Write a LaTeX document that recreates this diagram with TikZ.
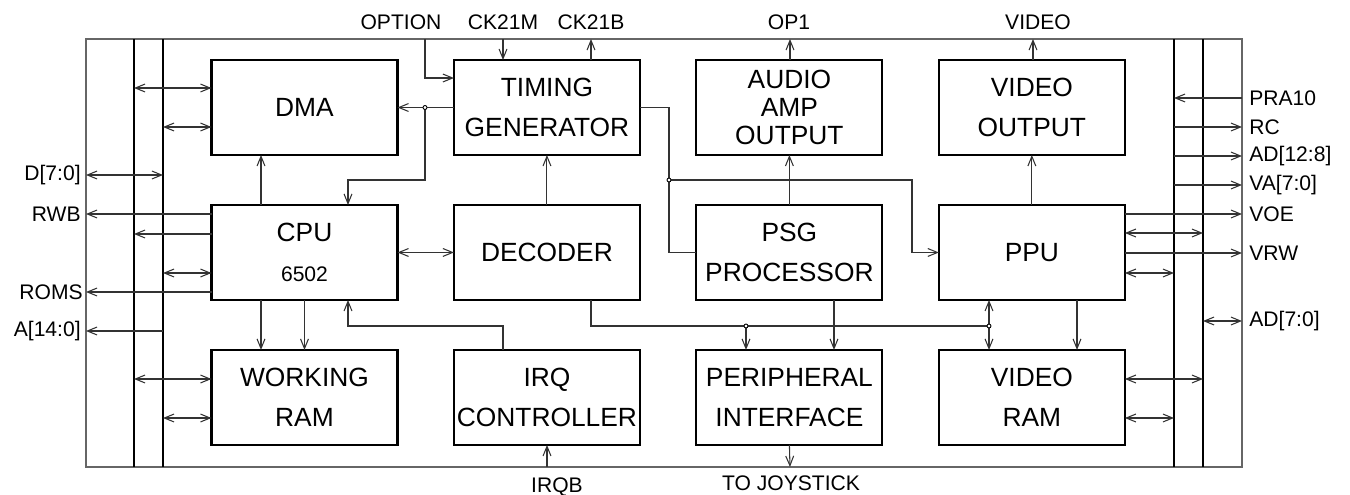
\documentclass[tikz,border=0pt]{standalone}
\usepackage{fontspec}
\setmainfont{Liberation Sans}
\usetikzlibrary{arrows.meta, positioning, calc}
\tikzset{
  blk/.style={rectangle, draw=black, line width=1.2pt, outer sep=0pt, inner sep=0pt,
              minimum width=3.72cm, minimum height=1.9cm, align=center,
              font=\fontsize{15}{22.8}\selectfont},
  lbl/.style={inner sep=0pt, font=\fontsize{12}{14}\selectfont},
  wire/.style={line width=0.6pt, draw=black!80, >={Straight Barb[length=5.5pt,width=4.5pt]}},
  bus/.style={line width=1.2pt, draw=black},
  frame/.style={line width=0.6pt, draw=black!60},
  dot/.style={circle, draw=black, fill=white, line width=0.5pt, inner sep=0pt, minimum size=0.08cm},
}
\begin{document}
\begin{tikzpicture}[x=0.02cm, y=-0.02cm]
  \useasboundingbox (0,0) rectangle (1350,494);

  \node[blk] (dma) at (304.5,107.5) {DMA};
  \node[blk, right=1.13cm of dma] (tg)   {TIMING\\GENERATOR};
  \node[blk, right=1.13cm of tg, font=\fontsize{15}{16}\selectfont] (aud) {AUDIO\\AMP\\OUTPUT};
  \node[blk, right=1.13cm of aud] (vout) {VIDEO\\OUTPUT};
  \node[blk, below=1cm of dma]  (cpu)  {CPU\\{\fontsize{12}{22.8}\selectfont 6502}};
  \node[blk, below=1cm of tg]   (dec)  {DECODER};
  \node[blk, below=1cm of aud]  (psg)  {PSG\\PROCESSOR};
  \node[blk, below=1cm of vout] (ppu)  {PPU};
  \node[blk, below=1cm of cpu]  (wram) {WORKING\\RAM};
  \node[blk, below=1cm of dec]  (irq)  {IRQ\\CONTROLLER};
  \node[blk, below=1cm of psg]  (per)  {PERIPHERAL\\INTERFACE};
  \node[blk, below=1cm of ppu]  (vram) {VIDEO\\RAM};

  \coordinate (fnw) at (86,39);
  \coordinate (fse) at (1242,467);
  \draw[frame] (fnw) rectangle (fse);
  \coordinate (busA) at (134,39);
  \coordinate (busB) at (163,39);
  \coordinate (busC) at (1174,39);
  \coordinate (busD) at (1203,39);
  \foreach \b in {busA,busB,busC,busD}
    \draw[bus] (\b) -- (\b |- fse);

  \coordinate (option) at (425,39);
  \coordinate (ck21m)  at (503,39);
  \coordinate (ck21b)  at (591,39);
  \coordinate (op1)    at (790,39);
  \coordinate (video)  at (1033,39);
  \coordinate (irqb)   at (547,467);
  \coordinate (joy)    at (790,467);
  \coordinate (pD)     at (86,175);
  \coordinate (pRWB)   at (86,214);
  \coordinate (pROMS)  at (86,292);
  \coordinate (pA)     at (86,331);
  \coordinate (pPRA)   at (1242,98);
  \coordinate (pRC)    at (1242,127);
  \coordinate (pAD12)  at (1242,156);
  \coordinate (pVA)    at (1242,185);
  \coordinate (pVOE)   at (1242,214);
  \coordinate (pVRW)   at (1242,253);
  \coordinate (pAD7)   at (1242,321);
  \coordinate (j1) at (tg.west -| 425,0);
  \coordinate (j2) at (669,180);
  \coordinate (j3) at (746,326);
  \coordinate (j4) at (989,326);

  \node[lbl] (tOPT) at (401,22.5)  {OPTION};
  \node[lbl] (tCKM) at (503,22.5)  {CK21M};
  \node[lbl] (tCKB) at (591,22.5)  {CK21B};
  \node[lbl] (tOP1) at (789,22.5)  {OP1};
  \node[lbl] (tVID) at (1038,22.5) {VIDEO};
  \node[lbl, anchor=base] (tIRQB) at (557,492) {IRQB};
  \node[lbl, anchor=base] (tJOY)  at (791,490) {TO JOYSTICK};
  \node[lbl, left=0.1cm of pD]     (lD)    {D[7:0]};
  \node[lbl, left=0.1cm of pRWB]   (lRWB)  {RWB};
  \node[lbl, left=0.06cm of pROMS] (lROMS) {ROMS};
  \node[lbl, left=0.1cm of pA]     (lA)    {A[14:0]};
  \node[lbl, right=0.14cm of pPRA]  (rPRA)  {PRA10};
  \node[lbl, right=0.14cm of pRC]   (rRC)   {RC};
  \node[lbl, right=0.14cm of pAD12] (rAD12) {AD[12:8]};
  \node[lbl, right=0.14cm of pVA]   (rVA)   {VA[7:0]};
  \node[lbl, right=0.14cm of pVOE]  (rVOE)  {VOE};
  \node[lbl, right=0.14cm of pVRW]  (rVRW)  {VRW};
  \node[lbl, right=0.14cm of pAD7]  (rAD7)  {AD[7:0]};

  \draw[wire, ->] (option) |- (tg.west |- 0,78);
  \draw[wire, ->] (ck21m) -- (ck21m |- tg.north);
  \draw[wire, ->] (ck21b |- tg.north) -- (ck21b);
  \draw[wire, ->] (op1 |- aud.north) -- (op1);
  \draw[wire, ->] (video |- vout.north) -- (video);
  \draw[wire, ->] (tg.west) -- (dma.east);
  \draw[wire, ->] (j1) -- (j1 |- 0,180) -| (cpu.north -| 348,0);
  \draw[wire, ->] (cpu.north -| 261,0) -- (dma.south -| 261,0);
  \draw[wire, ->] (dec.north) -- (tg.south);
  \draw[wire] (tg.east) -| (psg.west -| 669,0) -- (psg.west);
  \draw[wire, ->] (j2) -| (ppu.west -| 912,0) -- (ppu.west);
  \draw[wire, ->] (psg.north) -- (aud.south);
  \draw[wire, ->] (ppu.north) -- (vout.south);
  \draw[wire, <->] (cpu.east) -- (dec.west);
  \draw[wire, ->] (cpu.south -| 261,0) -- (wram.north -| 261,0);
  \draw[wire, ->] (cpu.south) -- (wram.north);
  \draw[wire, ->] (irq.north -| 503,0) |- (348,326) -- (cpu.south -| 348,0);
  \draw[wire, ->] (irqb) -- (irqb |- irq.south);
  \draw[wire, ->] (per.south) -- (joy);
  \draw[wire] (dec.south -| 591,0) |- (j4);
  \draw[wire, ->] (j3) -- (j3 |- per.north);
  \draw[wire, ->] (psg.south -| 834,0) -- (per.north -| 834,0);
  \draw[wire, <->] (ppu.south -| j4) -- (vram.north -| j4);
  \draw[wire, ->] (ppu.south -| 1077,0) -- (vram.north -| 1077,0);

  \draw[wire, <->] (busA |- 0,88) -- (dma.west |- 0,88);
  \draw[wire, <->] (busB |- 0,127) -- (dma.west |- 0,127);
  \draw[wire, <->] (pD) -- (busB |- pD);
  \draw[wire, ->] (cpu.west |- pRWB) -- (pRWB);
  \draw[wire, ->] (cpu.west |- 0,234) -- (busA |- 0,234);
  \draw[wire, <->] (busB |- 0,273) -- (cpu.west |- 0,273);
  \draw[wire, ->] (cpu.west |- pROMS) -- (pROMS);
  \draw[wire, ->] (busB |- pA) -- (pA);
  \draw[wire, <->] (busA |- 0,379) -- (wram.west |- 0,379);
  \draw[wire, <->] (busB |- 0,418) -- (wram.west |- 0,418);

  \draw[wire, ->] (pPRA) -- (busC |- pPRA);
  \draw[wire, ->] (busC |- pRC) -- (pRC);
  \draw[wire, ->] (busC |- pAD12) -- (pAD12);
  \draw[wire, ->] (busC |- pVA) -- (pVA);
  \draw[wire, ->] (ppu.east |- pVOE) -- (pVOE);
  \draw[wire, <->] (ppu.east |- 0,233) -- (busD |- 0,233);
  \draw[wire, ->] (ppu.east |- pVRW) -- (pVRW);
  \draw[wire, <->] (ppu.east |- 0,273) -- (busC |- 0,273);
  \draw[wire, <->] (busD |- pAD7) -- (pAD7);
  \draw[wire, <->] (vram.east |- 0,379) -- (busD |- 0,379);
  \draw[wire, <->] (vram.east |- 0,418) -- (busC |- 0,418);

  \foreach \j in {j1,j2,j3,j4}
    \node[dot] at (\j) {};
\end{tikzpicture}
\end{document}
